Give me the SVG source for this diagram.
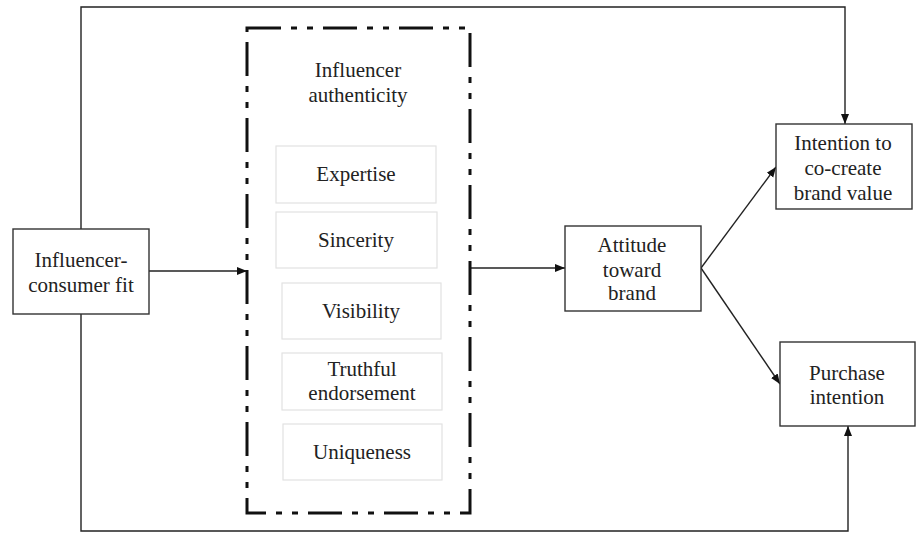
<svg xmlns="http://www.w3.org/2000/svg" width="916" height="534" viewBox="0 0 916 534">
<style>
text{font-family:"Liberation Serif",Tinos,"Times New Roman","DejaVu Serif",serif;font-size:21px;fill:#222;text-anchor:middle}
.box{fill:#fff;stroke:#333;stroke-width:1.4}
.sub{fill:#fff;stroke:#e2e2e2;stroke-width:1.2}
.ln{fill:none;stroke:#222;stroke-width:1.4}
.dash{fill:none;stroke:#111;stroke-width:3;stroke-dasharray:34 10 6 10 6 10}
</style>
<defs>
<marker id="ah" viewBox="0 0 10 10" refX="10" refY="5" markerWidth="10" markerHeight="10" markerUnits="userSpaceOnUse" orient="auto">
<path d="M0,1 L10,5 L0,9 Z" fill="#111"/>
</marker>
</defs>
<rect width="916" height="534" fill="#fff"/>
<g id="connectors">
<path class="ln" d="M81,229 V7 H845 V124" marker-end="url(#ah)"/>
<path class="ln" d="M81,314 V531 H848 V426" marker-end="url(#ah)"/>
<path class="ln" d="M149,271 H247" marker-end="url(#ah)"/>
<path class="ln" d="M470,268 H565" marker-end="url(#ah)"/>
<path class="ln" d="M701,268 L776,167" marker-end="url(#ah)"/>
<path class="ln" d="M701,268 L780,384" marker-end="url(#ah)"/>
</g>
<g id="authenticity">
<rect class="dash" x="247" y="28" width="223" height="485"/>
<text x="358" y="77">Influencer</text>
<text x="358" y="102">authenticity</text>
</g>
<g id="expertise"><rect class="sub" x="276" y="146" width="160" height="57"/><text x="356" y="181">Expertise</text></g>
<g id="sincerity"><rect class="sub" x="276" y="212" width="161" height="56"/><text x="356" y="247">Sincerity</text></g>
<g id="visibility"><rect class="sub" x="282" y="283" width="159" height="56"/><text x="361" y="318">Visibility</text></g>
<g id="truthful"><rect class="sub" x="282" y="353" width="160" height="57"/><text x="362" y="376">Truthful</text><text x="362" y="400">endorsement</text></g>
<g id="uniqueness"><rect class="sub" x="283" y="424" width="159" height="56"/><text x="362" y="459">Uniqueness</text></g>
<g id="fit"><rect class="box" x="13" y="229" width="136" height="85"/><text x="81" y="267">Influencer-</text><text x="81" y="292">consumer fit</text></g>
<g id="attitude"><rect class="box" x="565" y="226" width="136" height="85"/><text x="632" y="252">Attitude</text><text x="632" y="277">toward</text><text x="632" y="300">brand</text></g>
<g id="cocreate"><rect class="box" x="776" y="124" width="136" height="85"/><text x="843" y="150">Intention to</text><text x="843" y="175">co-create</text><text x="843" y="200">brand value</text></g>
<g id="purchase"><rect class="box" x="780" y="342" width="135" height="84"/><text x="847" y="380">Purchase</text><text x="847" y="404">intention</text></g>
</svg>
